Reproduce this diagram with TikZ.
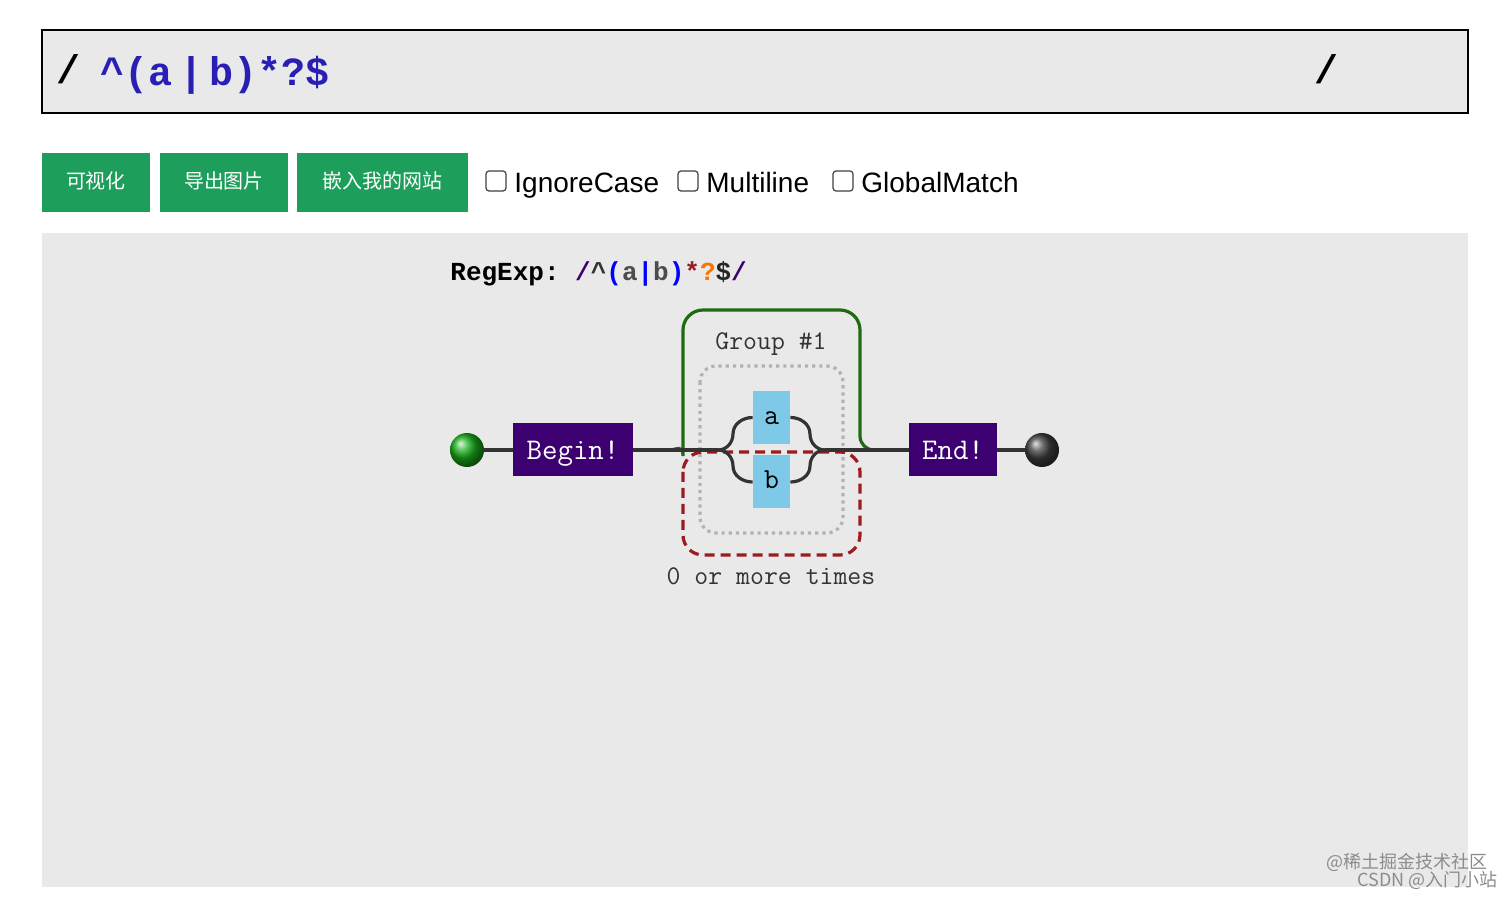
\documentclass[tikz,border=0pt]{standalone}
\usepackage{fontspec}
\setmainfont{Liberation Sans}
\newfontfamily\mono{Liberation Mono}
\newfontfamily\smono{Latin Modern Mono}
\newfontfamily\cjk{Noto Sans CJK SC}
\definecolor{panel}{HTML}{E9E9E9}
\definecolor{btn}{HTML}{1E9E5B}
\definecolor{rxblue}{HTML}{2A1FB5}
\definecolor{purp}{HTML}{3D0070}
\definecolor{sky}{HTML}{7EC8E8}
\definecolor{grp}{HTML}{1F6A12}
\definecolor{rep}{HTML}{9A1C22}
\begin{document}
\begin{tikzpicture}[x=0.5pt,y=-0.5pt,
 btnn/.style={fill=btn,text=white,font=\cjk\fontsize{10}{12}\selectfont,inner sep=0,anchor=center,text height=7.5pt,text depth=1pt},
 cb/.style={draw=black!75,rounded corners=1.5pt,line width=0.6pt,minimum size=10pt,inner sep=0},
 cbl/.style={anchor=base west,font=\fontsize{14}{16}\selectfont,inner sep=0},
 term/.style={fill=purp,text=white,font=\smono\fontsize{15}{17}\selectfont,inner sep=0,text height=9.5pt,text depth=0pt},
 lit/.style={fill=sky,font=\smono\fontsize{14.5}{16}\selectfont,inner sep=0,minimum width=18.5pt,minimum height=26.5pt,text height=7pt,text depth=0pt},
 wire/.style={line width=1.6pt,draw=black!80}]
\useasboundingbox (0,0) rectangle (1512,898);
\fill[white] (0,0) rectangle (1512,898);
% input
\draw[fill=panel,line width=0.8pt] (42,30) rectangle (1468,113);
\node[font=\mono\bfseries\fontsize{20}{22}\selectfont,anchor=base west,inner sep=0] (s1) at (56,84) {/};
\node[font=\mono\bfseries\fontsize{20}{22}\selectfont,anchor=base west,inner sep=0,text=rxblue] (rx) at (100,86) {\textasciicircum(a\,\textbar\,b)*?\$};
\node[font=\mono\bfseries\fontsize{20}{22}\selectfont,anchor=base west,inner sep=0] (s2) at (1314,84) {/};
% buttons
\node[btnn,minimum width=54pt,minimum height=29.5pt] (b1) at (96,182.5) {可视化};
\node[btnn,minimum width=64pt,minimum height=29.5pt] (b2) at (224,182.5) {导出图片};
\node[btnn,minimum width=85.5pt,minimum height=29.5pt] (b3) at (382.5,182.5) {嵌入我的网站};
\node[cb] (c1) at (496,181) {}; \node[cbl] (l1) at (514,193) {IgnoreCase};
\node[cb] (c2) at (688,181) {}; \node[cbl] (l2) at (706,193) {Multiline};
\node[cb] (c3) at (843,181) {}; \node[cbl] (l3) at (861,193) {GlobalMatch};
% panel
\fill[panel] (42,233) rectangle (1468,887);
\node[anchor=base west,inner sep=0,font=\mono\bfseries\fontsize{13}{15}\selectfont] (re) at (450,281)
 {RegExp:\ \textcolor{purp}{/}\textcolor{black!80}{\textasciicircum}\textcolor{blue}{(}\textcolor{black!70}{a}\textcolor{blue}{\textbar}\textcolor{black!70}{b}\textcolor{blue}{)}\textcolor{rep}{*}\textcolor{orange!90!red}{?}\textcolor{black!85}{\$}\textcolor{purp}{/}};
% group boxes
\draw[grp,line width=1.6pt,rounded corners=10pt] (669,450) to[out=0,in=-90] (683,436) -- (683,310) -- (860,310) -- (860,436);
\draw[grp,line width=1.6pt] (860,436) to[out=-90,in=180] (874,450);
\draw[black!30,line width=1.6pt,dotted,rounded corners=8pt] (700,366) rectangle (843,533);
\draw[rep,line width=1.6pt,dash pattern=on 5pt off 3pt,rounded corners=10pt] (683,452) rectangle (860,555);
\node[font=\smono\fontsize{13.5}{15}\selectfont,text=black!80,anchor=base] (gl) at (771,350) {Group \#1};
\node[font=\smono\fontsize{13.5}{15}\selectfont,text=black!80,anchor=base] (rl) at (771,585) {0 or more times};
% nodes
\shade[ball color=green!65!black!90] (467,450) circle (17);
\node[circle,minimum size=17pt,inner sep=0] (st) at (467,450) {};
\shade[ball color=black!75] (1042,450) circle (17);
\node[circle,minimum size=17pt,inner sep=0] (en) at (1042,450) {};
\node[term,minimum width=60pt,minimum height=26.5pt] (bg) at (573,450) {Begin!};
\node[term,minimum width=44pt,minimum height=26.5pt] (ed) at (953,450) {End!};
\node[lit] (a) at (771.5,417.5) {a};
\node[lit] (b) at (771.5,482) {b};
\coordinate (j1) at (718,450); \coordinate (j2) at (825,450);
\draw[wire] (st) -- (bg); \draw[wire] (ed) -- (en);
\draw[wire] (bg) -- (j1); \draw[wire] (j2) -- (ed);
\draw[wire] (j1) to[out=0,in=-90] (733,434) to[out=90,in=180] (a.west);
\draw[wire] (j1) to[out=0,in=90] (733,466) to[out=-90,in=180] (b.west);
\draw[wire] (a.east) to[out=0,in=90] (810,434) to[out=-90,in=180] (j2);
\draw[wire] (b.east) to[out=0,in=-90] (810,466) to[out=90,in=180] (j2);
% watermark
\node[anchor=east,inner sep=0,text=black!45,font=\cjk\fontsize{9}{10}\selectfont] (w1) at (1488,862) {@稀土掘金技术社区};
\node[anchor=east,inner sep=0,text=black!45,font=\cjk\fontsize{9}{10}\selectfont] (w2) at (1498,880) {CSDN @入门小站};
\end{tikzpicture}
\end{document}
